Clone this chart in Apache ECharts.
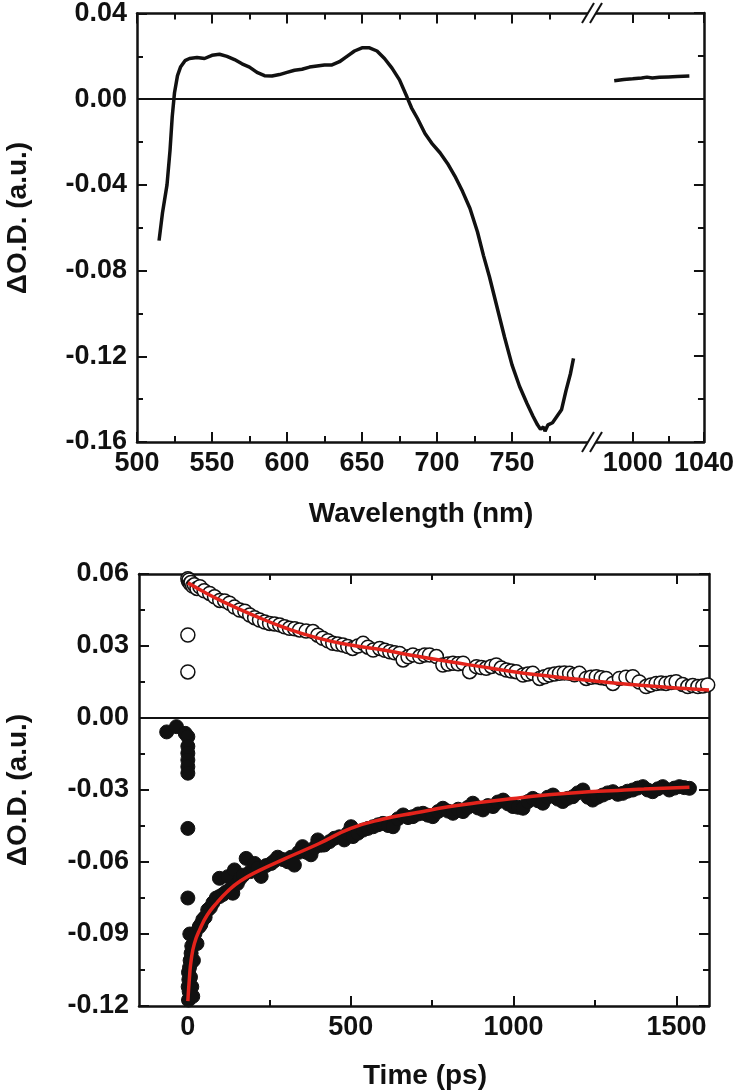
<!DOCTYPE html>
<html>
<head>
<meta charset="utf-8">
<script src="https://cdn.jsdelivr.net/npm/echarts@6/dist/echarts.min.js"></script>
<style>
    html, body { margin: 0; padding: 0; background: #fff; }
    #chart { width: 737px; height: 1091px; }
</style>
</head>
<body>
<div id="chart"></div>
<script>
    // 上图：瞬态吸收光谱 (左段 500-800 nm，右段 ~980-1040 nm)
    var waveNm = [514.7, 517, 520, 522, 523.5, 525, 527, 529, 532, 535, 540, 545, 550, 555, 560, 565, 570, 575, 580, 585,
        590, 595, 600, 605, 610, 615, 620, 625, 630, 635, 640, 645, 650, 655, 660, 665, 670, 675, 680, 683,
        687, 692, 697, 702, 707, 712, 717, 722, 727, 731, 735, 740, 745, 750, 755, 760, 764, 767, 769, 771,
        772, 774, 777, 780, 783, 786, 789, 791];
    var dOD = [-0.066, -0.053, -0.040, -0.024, -0.008, 0.003, 0.011, 0.015, 0.018, 0.019, 0.0195, 0.019, 0.0205, 0.021, 0.020, 0.0185, 0.0165, 0.015, 0.0125, 0.011,
        0.0108, 0.0115, 0.0125, 0.0135, 0.014, 0.015, 0.0155, 0.016, 0.016, 0.0175, 0.020, 0.0225, 0.024, 0.024, 0.0225, 0.019, 0.0145, 0.009, 0.001, -0.004,
        -0.009, -0.016, -0.021, -0.025, -0.030, -0.036, -0.043, -0.051, -0.062, -0.073, -0.083, -0.097, -0.111, -0.124, -0.134, -0.142, -0.148, -0.152, -0.154, -0.153,
        -0.155, -0.152, -0.151, -0.148, -0.145, -0.136, -0.128, -0.121];
    var waveNir = [989.6, 995, 1000, 1005, 1008, 1011, 1015, 1020, 1025, 1031.8];
    var dODNir = [0.0084, 0.0090, 0.0093, 0.0097, 0.0101, 0.0097, 0.0100, 0.0102, 0.0104, 0.0106];

    // 下图：动力学曲线
    var tOpen = [0, 0, 0, 2, 4, 7, 10, 15, 20, 28, 37, 50, 67, 82, 98, 113, 128, 143, 159, 175, 190, 205, 220, 236, 251, 266, 282, 297, 312, 328, 343, 363, 384, 399, 414, 430, 445, 460, 476, 491, 506,
        522, 538, 553, 569, 589, 605, 620, 635, 650, 661, 676, 691, 712, 727, 742, 763, 783, 799, 814, 830, 845, 865, 886, 901, 916, 932, 947, 962, 978, 993, 1008, 1029, 1044, 1059, 1080, 1095, 1110, 1126, 1141, 1156, 1172, 1187, 1202, 1223, 1238, 1254, 1269, 1284, 1305, 1325, 1345, 1366, 1386, 1407, 1422, 1438, 1453, 1468, 1484, 1499, 1519, 1535, 1550, 1566, 1581, 1596];
    var vOpen = [0.0192, 0.0346, 0.058, 0.057, 0.0575, 0.056, 0.0565, 0.055, 0.0555, 0.054, 0.0547, 0.053, 0.0519, 0.0505, 0.049, 0.0488, 0.0478, 0.0462, 0.045, 0.0445, 0.0429, 0.0418, 0.0408, 0.040, 0.0394, 0.0392, 0.0388, 0.0380, 0.0374, 0.0372, 0.0367, 0.0362, 0.036, 0.0345, 0.0332, 0.0322, 0.0311, 0.0308, 0.0304, 0.0298, 0.029,
        0.0300, 0.0311, 0.0295, 0.0283, 0.0290, 0.0282, 0.0276, 0.0272, 0.0269, 0.0242, 0.0255, 0.0263, 0.0256, 0.0262, 0.0263, 0.0256, 0.0221, 0.0225, 0.0228, 0.0226, 0.0228, 0.0193, 0.0214, 0.0210, 0.0207, 0.0215, 0.0221, 0.0208, 0.0200, 0.0196, 0.0193, 0.0179, 0.0183, 0.0186, 0.0165, 0.0172, 0.0179, 0.0183, 0.0186, 0.0188, 0.0186, 0.0180, 0.0186, 0.0165, 0.0170, 0.0172, 0.0168, 0.0165, 0.0144, 0.0165, 0.0170, 0.0172, 0.0150, 0.0131, 0.0138, 0.0144, 0.0146, 0.0144, 0.0148, 0.0151, 0.0140, 0.0131, 0.0135, 0.0131, 0.0133, 0.0138];
    var tFilled = [-65, -35, -8, 0, 0, 0, 0, 0, 0, 0, 0, 2, 4, 1, 3, 2, 5, 7, 10, 12, 17, 10, 12, 15, 6, 8, 22, 28, 35, 40, 46, 53, 61, 69, 77, 87, 97, 97, 108, 118, 123, 128, 138, 143, 152, 160, 170, 179, 192, 205, 215, 225, 240, 256, 266, 276, 292, 307, 317, 327, 340, 352, 365, 378, 389, 399, 409, 419, 435, 450, 465, 480, 491, 501,
        507, 522, 538, 553, 569, 584, 599, 615, 630, 645, 661, 676, 691, 707, 722, 737, 752, 768, 783, 799, 814, 830, 845, 860, 875, 891, 906, 921, 937, 952, 968, 983, 998, 1014, 1029, 1044, 1059, 1075, 1090, 1105, 1121, 1136, 1151, 1166, 1182, 1197, 1213, 1228, 1243, 1258, 1274, 1289, 1305, 1320, 1335, 1350, 1366, 1381, 1397, 1412, 1427, 1443, 1458, 1478, 1494, 1509, 1524, 1540];
    var vFilled = [-0.0058, -0.0036, -0.0064, -0.0078, -0.0118, -0.0147, -0.0175, -0.0203, -0.023, -0.046, -0.075, -0.1175, -0.114, -0.112, -0.109, -0.106, -0.104, -0.101, -0.098, -0.095, -0.101, -0.102, -0.112, -0.116, -0.090, -0.108, -0.0897, -0.094, -0.087, -0.086, -0.084, -0.083, -0.080, -0.079, -0.077, -0.075, -0.0744, -0.0668, -0.0735, -0.0724, -0.0661, -0.0717, -0.073, -0.0633, -0.0690, -0.067, -0.0655, -0.0585, -0.0640, -0.0606, -0.0625, -0.066, -0.0615, -0.0606, -0.0595, -0.058, -0.0590, -0.0599, -0.0580, -0.0613, -0.0560, -0.0536, -0.0560, -0.057, -0.0540, -0.0508, -0.0530, -0.0529, -0.0515, -0.0501, -0.0495, -0.0508, -0.0480, -0.0453,
        -0.0494, -0.0480, -0.0467, -0.0460, -0.0453, -0.0445, -0.0439, -0.0448, -0.0453, -0.0420, -0.0404, -0.0415, -0.0411, -0.0400, -0.0397, -0.0405, -0.0411, -0.0390, -0.0376, -0.0388, -0.0397, -0.0380, -0.039, -0.0372, -0.0355, -0.0375, -0.0383, -0.0365, -0.0369, -0.0350, -0.0342, -0.0358, -0.0369, -0.0372, -0.0376, -0.0348, -0.0335, -0.0345, -0.0355, -0.0330, -0.0321, -0.0338, -0.0348, -0.0335, -0.0328, -0.0312, -0.030, -0.0330, -0.0342, -0.0330, -0.0321, -0.0312, -0.0307, -0.0318, -0.0314, -0.0305, -0.030, -0.0292, -0.0286, -0.0300, -0.0307, -0.0295, -0.0286, -0.030, -0.0292, -0.0286, -0.0290, -0.0293];
    var tFitPos = [0, 50, 100, 200, 300, 400, 500, 600, 700, 800, 900, 1000, 1100, 1200, 1300, 1400, 1500, 1600];
    var vFitPos = [0.0563, 0.0525, 0.049, 0.0429, 0.0375, 0.0333, 0.0304, 0.0283, 0.0258, 0.0235, 0.0214, 0.0193, 0.0176, 0.0161, 0.0147, 0.0135, 0.0125, 0.0117];
    var tFitNeg = [0, 5, 10, 20, 37, 60, 89, 120, 160, 220, 300, 400, 500, 600, 700, 800, 900, 1000, 1100, 1200, 1300, 1400, 1540];
    var vFitNeg = [-0.118, -0.108, -0.101, -0.094, -0.088, -0.082, -0.077, -0.0725, -0.068, -0.0635, -0.0585, -0.0525, -0.046, -0.0421, -0.0395, -0.037, -0.0351, -0.0335, -0.0321, -0.031, -0.0303, -0.0296, -0.0289];

    function zip(xs, ys) {
        return xs.map(function (x, i) { return [x, ys[i]]; });
    }

    var ink = '#111';
    var fitRed = '#e3231b';
    var labelFont = { fontFamily: 'Liberation Sans, Arial, sans-serif', fontWeight: 'bold', fontSize: 27, color: ink };

    // 一个网格的一条横轴（主刻度 / 次刻度各一条）
    function xAx(grid, pos, min, max, ticks, len, labels, showLine) {
        return {
            type: 'value', gridIndex: grid, position: pos, min: min, max: max,
            axisLine: { show: showLine, onZero: false, lineStyle: { color: ink, width: 2.5 } },
            axisTick: { show: true, inside: true, length: len, customValues: ticks, lineStyle: { color: ink, width: 2 } },
            axisLabel: Object.assign({
                show: !!labels, margin: 8, customValues: labels || ticks,
                formatter: function (v) { return String(v); }
            }, labelFont),
            splitLine: { show: false }
        };
    }
    function yAx(grid, pos, min, max, step, labels) {
        return {
            type: 'value', gridIndex: grid, position: pos, min: min, max: max, interval: step,
            axisLine: { show: true, onZero: false, lineStyle: { color: ink, width: 2.5 } },
            axisTick: { show: true, inside: true, length: 10, lineStyle: { color: ink, width: 2 } },
            minorTick: { show: true, splitNumber: 2, length: 6, lineStyle: { color: ink, width: 2 } },
            axisLabel: Object.assign({ show: labels, margin: 10, formatter: function (v) { return v.toFixed(2); } }, labelFont),
            splitLine: { show: false }, minorSplitLine: { show: false }
        };
    }

    var zeroLine = {
        silent: true, symbol: 'none', label: { show: false },
        lineStyle: { color: ink, width: 2.2, type: 'solid' },
        data: [{ yAxis: 0 }]
    };

    var nmMajor = [500, 550, 600, 650, 700, 750];
    var nmMinor = [525, 575, 625, 675, 725, 775];
    var nirMajor = [1000, 1040];
    var nirMinor = [1020];
    var psMajor = [0, 500, 1000, 1500];
    var psMinor = [250, 750, 1250];

    function breakMark(y) {
        return [
            { type: 'rect', z: 100, shape: { x: 588, y: y - 2.5, width: 8, height: 5 }, style: { fill: '#fff' } },
            { type: 'line', z: 101, shape: { x1: 582, y1: y + 10, x2: 594, y2: y - 10 }, style: { stroke: ink, lineWidth: 2 } },
            { type: 'line', z: 101, shape: { x1: 590, y1: y + 10, x2: 602, y2: y - 10 }, style: { stroke: ink, lineWidth: 2 } }
        ];
    }
    function title(text, x, y, rot) {
        return {
            type: 'text', z: 100, x: x, y: y, rotation: rot || 0,
            style: {
                text: text, fill: ink, font: 'bold 28px "Liberation Sans", Arial, sans-serif',
                textAlign: 'center', textVerticalAlign: 'middle'
            }
        };
    }

    var option = {
        animation: false,
        backgroundColor: '#fff',
        grid: [
            { left: 137, top: 13, width: 453, height: 429 },
            { left: 590, top: 13, width: 117, height: 429 },
            { left: 139, top: 574, width: 570, height: 432 }
        ],
        xAxis: [
            xAx(0, 'bottom', 500, 802, nmMajor, 10, nmMajor, true),
            xAx(0, 'bottom', 500, 802, nmMinor, 6, null, false),
            xAx(0, 'top', 500, 802, nmMajor, 10, null, true),
            xAx(0, 'top', 500, 802, nmMinor, 6, null, false),
            xAx(1, 'bottom', 976, 1040, nirMajor, 10, nirMajor, true),
            xAx(1, 'bottom', 976, 1040, nirMinor, 6, null, false),
            xAx(1, 'top', 976, 1040, nirMajor, 10, null, true),
            xAx(1, 'top', 976, 1040, nirMinor, 6, null, false),
            xAx(2, 'bottom', -150, 1600, psMajor, 10, psMajor, true),
            xAx(2, 'bottom', -150, 1600, psMinor, 6, null, false),
            xAx(2, 'top', -150, 1600, psMajor, 10, null, true),
            xAx(2, 'top', -150, 1600, psMinor, 6, null, false)
        ],
        yAxis: [
            yAx(0, 'left', -0.16, 0.04, 0.04, true),
            yAx(1, 'right', -0.16, 0.04, 0.04, false),
            yAx(2, 'left', -0.12, 0.06, 0.03, true),
            yAx(2, 'right', -0.12, 0.06, 0.03, false)
        ],
        graphic: [].concat(
            breakMark(13),
            breakMark(442),
            [
                title('Wavelength (nm)', 421, 514),
                title('Time (ps)', 425, 1076),
                title('ΔO.D. (a.u.)', 18, 218, Math.PI / 2),
                title('ΔO.D. (a.u.)', 18, 790, Math.PI / 2)
            ]
        ),
        series: [
            {
                type: 'line', xAxisIndex: 0, yAxisIndex: 0, data: zip(waveNm, dOD),
                showSymbol: false, lineStyle: { color: ink, width: 3.5 }, markLine: zeroLine
            },
            {
                type: 'line', xAxisIndex: 4, yAxisIndex: 1, data: zip(waveNir, dODNir),
                showSymbol: false, lineStyle: { color: ink, width: 3.5 }, markLine: zeroLine
            },
            {
                type: 'scatter', xAxisIndex: 8, yAxisIndex: 2, data: zip(tOpen, vOpen),
                symbol: 'circle', symbolSize: 14,
                itemStyle: { color: '#fff', borderColor: ink, borderWidth: 1.5, opacity: 1 }, markLine: zeroLine
            },
            {
                type: 'scatter', xAxisIndex: 8, yAxisIndex: 2, data: zip(tFilled, vFilled),
                symbol: 'circle', symbolSize: 14,
                itemStyle: { color: ink, borderColor: ink, borderWidth: 1, opacity: 1 }
            },
            {
                type: 'line', xAxisIndex: 8, yAxisIndex: 2, data: zip(tFitPos, vFitPos), smooth: true,
                showSymbol: false, z: 5, lineStyle: { color: fitRed, width: 3.5 }
            },
            {
                type: 'line', xAxisIndex: 8, yAxisIndex: 2, data: zip(tFitNeg, vFitNeg), smooth: true,
                showSymbol: false, z: 5, lineStyle: { color: fitRed, width: 3.5 }
            }
        ]
    };

    var chart = echarts.init(document.getElementById('chart'));
    chart.setOption(option);
    window.addEventListener('resize', function () {
        chart.resize();
    });
</script>
</body>
</html>
